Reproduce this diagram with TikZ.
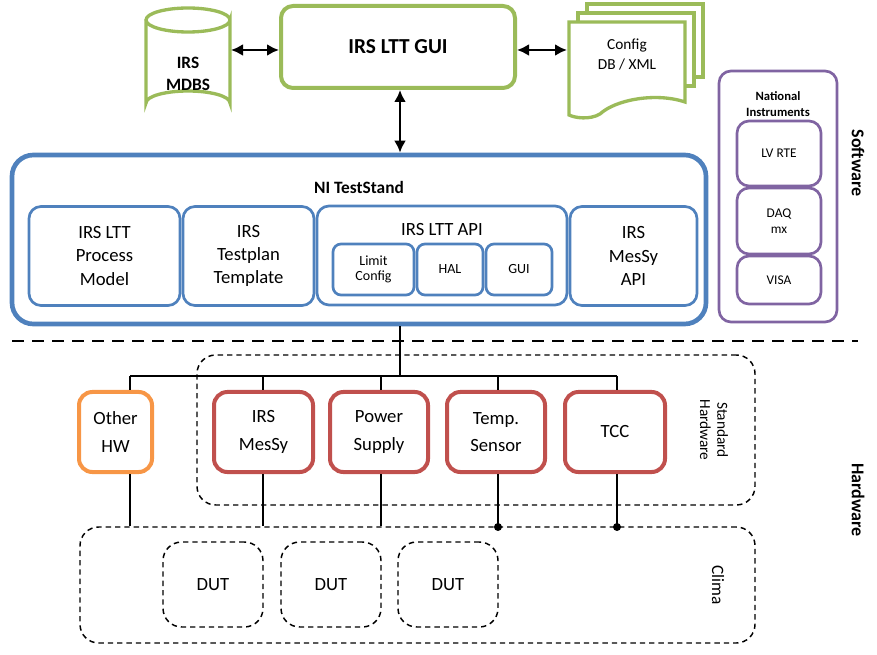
\documentclass[tikz,border=0pt]{standalone}
\usepackage{fontspec}
\setmainfont{Carlito}
\usetikzlibrary{arrows.meta}
\definecolor{grn}{HTML}{9BBB59}
\definecolor{blu}{HTML}{4F81BD}
\definecolor{pur}{HTML}{8064A2}
\definecolor{org}{HTML}{F79646}
\definecolor{rd}{HTML}{C0504D}
\begin{document}
\begin{tikzpicture}[x=0.75pt,y=-0.75pt,
  box/.style={draw=#1,line width=2pt,rounded corners=9pt},
  hw/.style={draw=#1,line width=3pt,rounded corners=10pt},
  dsh/.style={draw,dash pattern=on 4pt off 3pt,line width=1.1pt,rounded corners=14pt},
  conn/.style={line width=1.5pt},
  arr/.style={line width=1.8pt,{Latex[length=9pt,width=9pt]}-{Latex[length=9pt,width=9pt]}},
  t/.style={font=\fontsize{14}{17.5}\selectfont,align=center},
  s/.style={font=\fontsize{10}{12}\selectfont,align=center}]
\useasboundingbox (0,0) rectangle (877,655);
% cylinder
\draw[grn,line width=2.5pt,fill=white] (146,20) -- (146,103) arc[start angle=180,end angle=360,x radius=42,y radius=12] -- (230,20) arc[start angle=0,end angle=360,x radius=42,y radius=12];
\node[font=\bfseries\fontsize{13}{16}\selectfont,align=center] (mdbs) at (188,74) {IRS\\MDBS};
\coordinate (mdbsR) at (231,50);
% GUI
\node[box=grn,line width=3pt,minimum width=234*0.75pt,minimum height=82*0.75pt,font=\bfseries\fontsize{16}{19}\selectfont] (gui) at (398,47) {IRS LTT GUI};
% docs
\foreach \d in {18,9} {
\draw[grn,line width=2.5pt,fill=white] (569+\d,22-\d) rectangle (685+\d,95-\d);}
\draw[grn,line width=2.5pt,fill=white] (569,22) -- (685,22) -- (685,102) .. controls (655,92) and (615,100) .. (600,114) .. controls (590,120) and (575,118) .. (569,115) -- cycle;
\node[font=\fontsize{11.5}{15}\selectfont,align=center] (cfg) at (627,55) {Config\\DB / XML};
\coordinate (cfgL) at (567,50);
\draw[arr] (mdbsR) -- (gui.west |- mdbsR);
\draw[arr] (gui.east |- cfgL) -- (cfgL);
% NI
\draw[box=pur] (719,71) rectangle (837,322);
\node[font=\bfseries\fontsize{9.5}{12}\selectfont,align=center] (nit) at (778,104) {National\\Instruments};
\node[box=pur,minimum width=84*0.75pt,minimum height=65*0.75pt,s] (lv) at (779,153.5) {LV RTE};
\node[box=pur,minimum width=84*0.75pt,minimum height=66*0.75pt,s] (daq) at (779,221) {DAQ\\mx};
\node[box=pur,minimum width=84*0.75pt,minimum height=48*0.75pt,s] (visa) at (779,280) {VISA};
\node[rotate=-90,font=\bfseries\fontsize{13.5}{15}\selectfont] (sw) at (858,163) {Software};
\node[rotate=-90,font=\bfseries\fontsize{13.5}{15}\selectfont] (hwl) at (858,500) {Hardware};
% TestStand
\node[box=blu,line width=3.5pt,rounded corners=16pt,minimum width=694*0.75pt,minimum height=169*0.75pt] (ts) at (359,239.5) {};
\node[font=\bfseries\fontsize{13}{15}\selectfont] (tst) at (359,187) {NI TestStand};
\node[box=blu,minimum width=151*0.75pt,minimum height=99*0.75pt,t] (pm) at (104.5,256) {IRS LTT\\Process\\Model};
\node[box=blu,minimum width=131*0.75pt,minimum height=99*0.75pt,t] (tp) at (248.5,256) {IRS\\Testplan\\Template};
\node[box=blu,minimum width=250*0.75pt,minimum height=99*0.75pt] (api) at (442,255.5) {};
\node[t] (apit) at (442,230) {IRS LTT API};
\node[box=blu,minimum width=127*0.75pt,minimum height=99*0.75pt,t] (ma) at (633.5,256) {IRS\\MesSy\\API};
\node[box=blu,rounded corners=6pt,minimum width=81*0.75pt,minimum height=51*0.75pt,s,font=\fontsize{10.5}{11}\selectfont] (lc) at (373.5,269.5) {Limit\\Config};
\node[box=blu,rounded corners=6pt,minimum width=66*0.75pt,minimum height=51*0.75pt,s,font=\fontsize{10.5}{11}\selectfont] (hal) at (450,269.5) {HAL};
\node[box=blu,rounded corners=6pt,minimum width=66*0.75pt,minimum height=51*0.75pt,s,font=\fontsize{10.5}{11}\selectfont] (g2) at (519,269.5) {GUI};
\draw[arr] (gui.south -| 400,0) -- (ts.north -| 400,0);
% separator
\coordinate (sepL) at (12,341); \coordinate (sepR) at (858,341);
\draw[line width=2.2pt,dash pattern=on 9pt off 6pt] (sepL) -- (sepR);
% standard hw
\node[dsh,minimum width=558*0.75pt,minimum height=150*0.75pt] (std) at (476,430) {};
\node[rotate=-90,font=\fontsize{11.5}{13}\selectfont,align=center] (stdt) at (714,430) {Standard\\Hardware};
\node[dsh,minimum width=675*0.75pt,minimum height=116*0.75pt] (clima) at (417.5,585) {};
\node[rotate=-90,font=\fontsize{13}{14}\selectfont] (climat) at (718,585) {Clima};
\foreach \n/\x in {d1/213,d2/331,d3/448} \node[dsh,minimum width=100*0.75pt,minimum height=85*0.75pt,t] (\n) at (\x,584.5) {DUT};
% hw boxes
\node[hw=org,minimum width=73*0.75pt,minimum height=80*0.75pt,t,text width=60*0.75pt] (oh) at (115.5,432) {Other\\[3pt]HW};
\node[hw=rd,minimum width=99*0.75pt,minimum height=80*0.75pt,t] (ms) at (263.5,432) {IRS\\[3pt]MesSy};
\node[hw=rd,minimum width=98*0.75pt,minimum height=80*0.75pt,t] (ps) at (379,432) {Power\\[3pt]Supply};
\node[hw=rd,minimum width=98*0.75pt,minimum height=80*0.75pt,t] (tsn) at (496,432) {Temp.\\[3pt]Sensor};
\node[hw=rd,minimum width=100*0.75pt,minimum height=80*0.75pt,t] (tcc) at (615,432) {TCC};
% bus
\coordinate (busL) at (130,376); \coordinate (busR) at (617,376); \coordinate (busM) at (400,376);
\draw[conn] (ts.south -| busM) -- (busM);
\draw[conn] (busL) -- (busR);
\foreach \n/\x in {oh/130,ms/263,ps/381,tsn/498,tcc/617} {
  \draw[conn] (\x,376) -- (\n.north -| \x,0);
  \draw[conn] (\n.south -| \x,0) -- (clima.north -| \x,0);}
\fill (498,527) circle (4pt*0.75);
\fill (617,527) circle (4pt*0.75);
\end{tikzpicture}
\end{document}
